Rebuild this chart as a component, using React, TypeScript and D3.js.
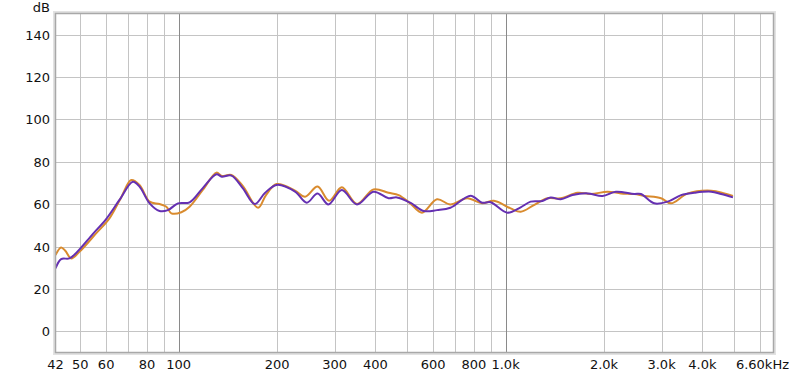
import * as d3 from "d3";

// frequency response, two measurements [Hz, dB]
const orangeFreq = [42, 43.7, 45, 46.9, 49.7, 55.9, 61.4, 66.7, 71.6, 75.9, 81.5, 87.4, 91.7, 95, 101.9, 108, 118.5, 130.5, 135.5, 145, 157, 175, 185, 199.4, 227, 243.5, 266, 288.5, 315.6, 351, 394.5, 438.6, 471, 511, 555, 617, 678, 763, 848, 921, 1036, 1112, 1221, 1343, 1475, 1660, 1823, 2051, 2253, 2475, 2656, 2989, 3207, 3609, 4255, 4673, 4960];
const orangeDb = [36.0, 39.6, 38.0, 34.4, 37.5, 46.2, 53.3, 63.2, 71.4, 69.1, 61.2, 60.1, 58.8, 55.7, 56.2, 58.8, 66.7, 74.9, 73.3, 73.8, 68.6, 58.3, 64.3, 69.5, 66.4, 63.5, 68.3, 61.6, 68.0, 60.1, 67.0, 65.4, 64.3, 60.4, 56.0, 62.3, 59.9, 62.8, 60.4, 61.6, 58.0, 56.4, 59.6, 62.8, 62.8, 65.4, 64.8, 65.9, 65.1, 64.8, 63.9, 62.8, 60.4, 65.1, 66.4, 65.1, 63.9];

const purpleFreq = [42, 43.7, 46.3, 48.6, 54.6, 60, 65.9, 72.4, 75.9, 81.5, 87.4, 92.7, 99.5, 108, 118.5, 130.5, 135.5, 145, 157, 171, 183.6, 199.4, 227, 246.5, 266, 287, 315.6, 351, 394.5, 438.6, 465, 511, 561.6, 617, 678, 781, 848, 900, 1012, 1112, 1193, 1296, 1374, 1475, 1602, 1781, 1980, 2175, 2475, 2595, 2850, 3133, 3442, 3780, 4255, 4565, 4960];
const purpleDb = [29.7, 34.1, 34.4, 37.0, 45.9, 53.0, 62.0, 70.6, 68.3, 60.4, 56.8, 57.2, 60.4, 60.9, 67.6, 74.1, 73.0, 73.5, 67.6, 60.1, 65.3, 69.1, 65.9, 60.7, 65.1, 59.9, 66.7, 59.9, 65.9, 62.8, 63.2, 60.7, 56.8, 57.2, 58.3, 64.0, 60.7, 60.9, 56.0, 58.5, 61.2, 61.5, 63.2, 62.3, 64.3, 65.1, 63.9, 65.9, 64.8, 64.8, 60.4, 61.2, 64.3, 65.4, 65.9, 64.8, 63.2];

const gridFreqs = [50, 60, 70, 80, 90, 100, 200, 300, 400, 500, 600, 700, 800, 900, 1000, 2000, 3000, 4000, 5000, 6000];
const xTickFreqs = [42, 50, 60, 80, 100, 200, 300, 400, 600, 800, 1000, 2000, 3000, 4000];
const xTickLabels = ["42", "50", "60", "80", "100", "200", "300", "400", "600", "800", "1.0k", "2.0k", "3.0k", "4.0k"];
const yTicks = [0, 20, 40, 60, 80, 100, 120, 140];

const W = 800;
const H = 372;
const left = 55.5, right = 773.5, top = 13.5, bottom = 352.5;

const App = () => {
    const x = d3.scaleLog().domain([42, 6600]).range([left, right]);
    const y = d3.scaleLinear().domain([-10, 150]).range([bottom, top]);

    const line = d3.line<[number, number]>()
        .x(d => x(d[0]))
        .y(d => y(d[1]))
        .curve(d3.curveCatmullRom.alpha(0.5));

    const orange = line(orangeFreq.map((f, i) => [f, orangeDb[i]] as [number, number])) || "";
    const purple = line(purpleFreq.map((f, i) => [f, purpleDb[i]] as [number, number])) || "";

    const font = "DejaVu Sans, sans-serif";

    return (
        <svg width={W} height={H} style={{ position: "absolute", left: 0, top: 0, background: "#fff" }}>
            <rect x={left} y={top} width={right - left} height={bottom - top} fill="#fff" />
            {yTicks.map(t => (
                <line key={"gy" + t} x1={left} x2={right} y1={Math.round(y(t)) + 0.5} y2={Math.round(y(t)) + 0.5} stroke="#c4c4c4" strokeWidth={1} />
            ))}
            {gridFreqs.map(f => (
                <line key={"gx" + f} x1={Math.round(x(f)) + 0.5} x2={Math.round(x(f)) + 0.5} y1={top} y2={bottom}
                    stroke={f === 100 || f === 1000 ? "#8a8a8a" : "#c4c4c4"} strokeWidth={1} />
            ))}
            <path d={orange} fill="none" stroke="#d98b2e" strokeWidth={2} strokeLinejoin="round" />
            <path d={purple} fill="none" stroke="#6530b2" strokeWidth={2} strokeLinejoin="round" />
            {/* frame with shaded edge */}
            <rect x={left - 1} y={top - 1} width={right - left + 2} height={bottom - top + 2}
                fill="none" stroke="#e2e2e2" strokeWidth={3} />
            <rect x={left} y={top} width={right - left} height={bottom - top}
                fill="none" stroke="#a8a8a8" strokeWidth={1.5} />
            {yTicks.map(t => (
                <text key={"ty" + t} x={50} y={y(t) + 5} textAnchor="end" fontFamily={font} fontSize={13} fill="#111">{t}</text>
            ))}
            <text x={50} y={12} textAnchor="end" fontFamily={font} fontSize={13} fill="#111">dB</text>
            {xTickFreqs.map((f, i) => (
                <text key={"tx" + f} x={x(f)} y={369} textAnchor="middle" fontFamily={font} fontSize={13} fill="#111">{xTickLabels[i]}</text>
            ))}
            <text x={789} y={369} textAnchor="end" fontFamily={font} fontSize={13} fill="#111">6.60kHz</text>
        </svg>
    );
};

export default App;
